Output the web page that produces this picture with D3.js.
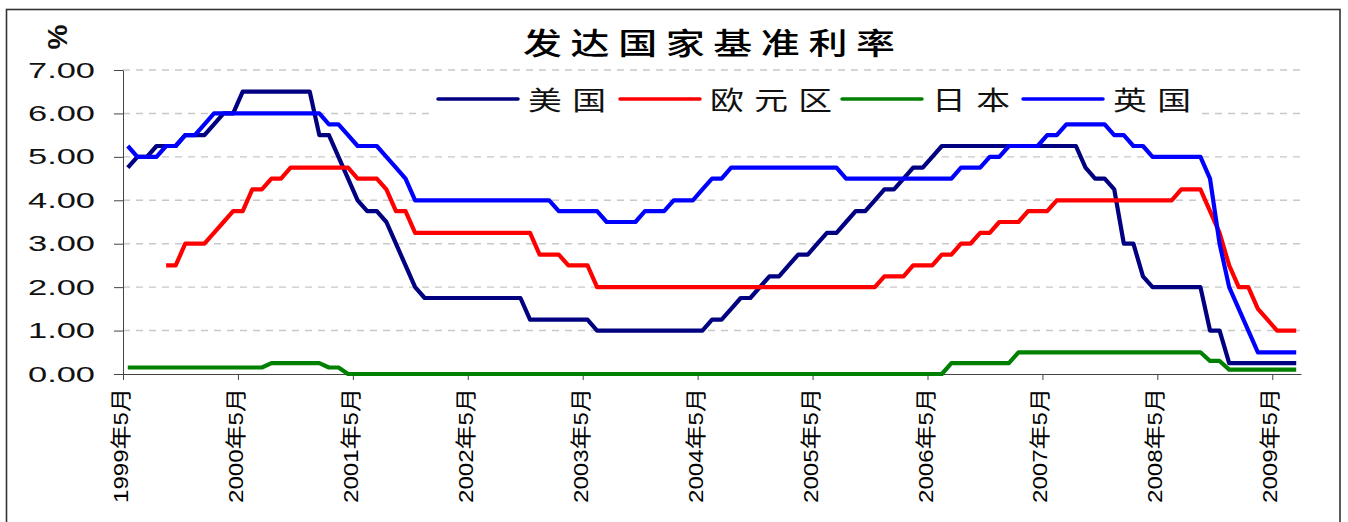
<!DOCTYPE html>
<html>
<head>
<meta charset="utf-8">
<script src="https://cdn.jsdelivr.net/npm/d3@7"></script>
<style>
body { margin: 0; background: #fff; }
svg { display: block; }
</style>
</head>
<body>
<div id="chart"></div>
<script>
var width = 1348;
var height = 522;

// tick labels every 12 months, first category = 1999年5月
var tickLabels = ["1999年5月", "2000年5月", "2001年5月", "2002年5月", "2003年5月", "2004年5月",
    "2005年5月", "2006年5月", "2007年5月", "2008年5月", "2009年5月"];
var tickIndex = [0, 12, 24, 36, 48, 60, 72, 84, 96, 108, 120];
var yTicks = [0, 1, 2, 3, 4, 5, 6, 7];

// monthly values, 1999年5月 .. 2009年7月 (one row = 12 months from May)
var usRate = [
    4.75, 5.00, 5.00, 5.25, 5.25, 5.25, 5.50, 5.50, 5.50, 5.75, 6.00, 6.00,
    6.50, 6.50, 6.50, 6.50, 6.50, 6.50, 6.50, 6.50, 5.50, 5.50, 5.00, 4.50,
    4.00, 3.75, 3.75, 3.50, 3.00, 2.50, 2.00, 1.75, 1.75, 1.75, 1.75, 1.75,
    1.75, 1.75, 1.75, 1.75, 1.75, 1.75, 1.25, 1.25, 1.25, 1.25, 1.25, 1.25,
    1.25, 1.00, 1.00, 1.00, 1.00, 1.00, 1.00, 1.00, 1.00, 1.00, 1.00, 1.00,
    1.00, 1.25, 1.25, 1.50, 1.75, 1.75, 2.00, 2.25, 2.25, 2.50, 2.75, 2.75,
    3.00, 3.25, 3.25, 3.50, 3.75, 3.75, 4.00, 4.25, 4.25, 4.50, 4.75, 4.75,
    5.00, 5.25, 5.25, 5.25, 5.25, 5.25, 5.25, 5.25, 5.25, 5.25, 5.25, 5.25,
    5.25, 5.25, 5.25, 5.25, 4.75, 4.50, 4.50, 4.25, 3.00, 3.00, 2.25, 2.00,
    2.00, 2.00, 2.00, 2.00, 2.00, 1.00, 1.00, 0.25, 0.25, 0.25, 0.25, 0.25,
    0.25, 0.25, 0.25
];
var euroRate = [
    null, null, null, null, 2.50, 2.50, 3.00, 3.00, 3.00, 3.25, 3.50, 3.75,
    3.75, 4.25, 4.25, 4.50, 4.50, 4.75, 4.75, 4.75, 4.75, 4.75, 4.75, 4.75,
    4.50, 4.50, 4.50, 4.25, 3.75, 3.75, 3.25, 3.25, 3.25, 3.25, 3.25, 3.25,
    3.25, 3.25, 3.25, 3.25, 3.25, 3.25, 3.25, 2.75, 2.75, 2.75, 2.50, 2.50,
    2.50, 2.00, 2.00, 2.00, 2.00, 2.00, 2.00, 2.00, 2.00, 2.00, 2.00, 2.00,
    2.00, 2.00, 2.00, 2.00, 2.00, 2.00, 2.00, 2.00, 2.00, 2.00, 2.00, 2.00,
    2.00, 2.00, 2.00, 2.00, 2.00, 2.00, 2.00, 2.25, 2.25, 2.25, 2.50, 2.50,
    2.50, 2.75, 2.75, 3.00, 3.00, 3.25, 3.25, 3.50, 3.50, 3.50, 3.75, 3.75,
    3.75, 4.00, 4.00, 4.00, 4.00, 4.00, 4.00, 4.00, 4.00, 4.00, 4.00, 4.00,
    4.00, 4.00, 4.25, 4.25, 4.25, 3.75, 3.25, 2.50, 2.00, 2.00, 1.50, 1.25,
    1.00, 1.00, 1.00
];
var japanRate = [
    0.15, 0.15, 0.15, 0.15, 0.15, 0.15, 0.15, 0.15, 0.15, 0.15, 0.15, 0.15,
    0.15, 0.15, 0.15, 0.25, 0.25, 0.25, 0.25, 0.25, 0.25, 0.15, 0.15, 0.00,
    0.00, 0.00, 0.00, 0.00, 0.00, 0.00, 0.00, 0.00, 0.00, 0.00, 0.00, 0.00,
    0.00, 0.00, 0.00, 0.00, 0.00, 0.00, 0.00, 0.00, 0.00, 0.00, 0.00, 0.00,
    0.00, 0.00, 0.00, 0.00, 0.00, 0.00, 0.00, 0.00, 0.00, 0.00, 0.00, 0.00,
    0.00, 0.00, 0.00, 0.00, 0.00, 0.00, 0.00, 0.00, 0.00, 0.00, 0.00, 0.00,
    0.00, 0.00, 0.00, 0.00, 0.00, 0.00, 0.00, 0.00, 0.00, 0.00, 0.00, 0.00,
    0.00, 0.00, 0.25, 0.25, 0.25, 0.25, 0.25, 0.25, 0.25, 0.50, 0.50, 0.50,
    0.50, 0.50, 0.50, 0.50, 0.50, 0.50, 0.50, 0.50, 0.50, 0.50, 0.50, 0.50,
    0.50, 0.50, 0.50, 0.50, 0.50, 0.30, 0.30, 0.10, 0.10, 0.10, 0.10, 0.10,
    0.10, 0.10, 0.10
];
var ukRate = [
    5.25, 5.00, 5.00, 5.00, 5.25, 5.25, 5.50, 5.50, 5.75, 6.00, 6.00, 6.00,
    6.00, 6.00, 6.00, 6.00, 6.00, 6.00, 6.00, 6.00, 6.00, 5.75, 5.75, 5.50,
    5.25, 5.25, 5.25, 5.00, 4.75, 4.50, 4.00, 4.00, 4.00, 4.00, 4.00, 4.00,
    4.00, 4.00, 4.00, 4.00, 4.00, 4.00, 4.00, 4.00, 4.00, 3.75, 3.75, 3.75,
    3.75, 3.75, 3.50, 3.50, 3.50, 3.50, 3.75, 3.75, 3.75, 4.00, 4.00, 4.00,
    4.25, 4.50, 4.50, 4.75, 4.75, 4.75, 4.75, 4.75, 4.75, 4.75, 4.75, 4.75,
    4.75, 4.75, 4.75, 4.50, 4.50, 4.50, 4.50, 4.50, 4.50, 4.50, 4.50, 4.50,
    4.50, 4.50, 4.50, 4.75, 4.75, 4.75, 5.00, 5.00, 5.25, 5.25, 5.25, 5.25,
    5.50, 5.50, 5.75, 5.75, 5.75, 5.75, 5.75, 5.50, 5.50, 5.25, 5.25, 5.00,
    5.00, 5.00, 5.00, 5.00, 5.00, 4.50, 3.00, 2.00, 1.50, 1.00, 0.50, 0.50,
    0.50, 0.50, 0.50
];

var seriesNames = ["美国", "欧元区", "日本", "英国"];
var seriesValues = [usRate, euroRate, japanRate, ukRate];
var seriesColors = ["#000080", "#ff0000", "#008000", "#0000ff"];

var svg = d3.select("#chart").append("svg")
        .attr("width", width)
        .attr("height", height);

// outer frame
svg.append("rect")
        .attr("x", 6.5).attr("y", 9.5)
        .attr("width", 1333.5).attr("height", 540)
        .attr("fill", "#fff")
        .attr("stroke", "#333")
        .attr("stroke-width", 1.6);

var x = d3.scaleLinear().domain([0, usRate.length]).range([123, 1301]);
var y = d3.scaleLinear().domain([0, 7]).range([374, 70]);

// gridlines
svg.append("g").selectAll("line")
        .data(yTicks.filter(function (d) { return d > 0; }))
        .enter().append("line")
        .attr("x1", 123).attr("x2", 1301)
        .attr("y1", function (d) { return y(d); })
        .attr("y2", function (d) { return y(d); })
        .attr("stroke", "#c8c8c8")
        .attr("stroke-width", 1.4)
        .attr("stroke-dasharray", "7,6");

// legend background hides the grid behind it
svg.append("rect")
        .attr("x", 432).attr("y", 80)
        .attr("width", 766).attr("height", 40)
        .attr("fill", "#fff");

// y axis
var yAxis = svg.append("g")
        .attr("transform", "translate(123,0)")
        .call(d3.axisLeft(y).tickValues(yTicks).tickFormat(d3.format(".2f"))
                .tickSize(9).tickSizeOuter(0).tickPadding(19));
yAxis.select(".domain").attr("stroke", "#444");
yAxis.selectAll(".tick line").attr("stroke", "#444");
yAxis.selectAll("text")
        .attr("font-family", "'Liberation Sans', Arial, sans-serif")
        .attr("font-size", 22)
        .attr("fill", "#111")
        .attr("textLength", 67)
        .attr("lengthAdjust", "spacingAndGlyphs");

// x axis
var xAxis = svg.append("g")
        .attr("transform", "translate(0,374)")
        .call(d3.axisBottom(x).tickValues(tickIndex)
                .tickFormat(function (d, k) { return tickLabels[k]; })
                .tickSize(6).tickSizeOuter(0));
xAxis.select(".domain").attr("stroke", "#444");
xAxis.selectAll(".tick line").attr("stroke", "#444");
xAxis.selectAll("text")
        .attr("transform", "rotate(-90)")
        .attr("text-anchor", "end")
        .attr("x", -14)
        .attr("y", -3)
        .attr("dy", "0.36em")
        .attr("font-family", "'Liberation Sans', 'Noto Sans CJK SC', sans-serif")
        .attr("font-size", 21)
        .attr("fill", "#000")
        .attr("textLength", 115)
        .attr("lengthAdjust", "spacingAndGlyphs");

// series lines
var line = d3.line()
        .defined(function (d) { return d !== null; })
        .x(function (d, i) { return x(i + 0.5); })
        .y(function (d) { return y(d); });

svg.append("g").selectAll("path")
        .data(seriesValues)
        .enter().append("path")
        .attr("d", line)
        .attr("fill", "none")
        .attr("stroke", function (d, i) { return seriesColors[i]; })
        .attr("stroke-width", 4.2)
        .attr("stroke-linejoin", "round");

// legend
var legendX = [438, 620, 842, 1023];
var legend = svg.append("g").selectAll("g")
        .data(seriesNames)
        .enter().append("g")
        .attr("transform", function (d, i) { return "translate(" + legendX[i] + ",99)"; });
legend.append("line")
        .attr("x1", 0).attr("x2", 80)
        .attr("stroke", function (d, i) { return seriesColors[i]; })
        .attr("stroke-width", 3.5)
        .attr("stroke-linecap", "round");
legend.append("text")
        .attr("transform", "translate(90,0) scale(1.3,1)")
        .attr("dominant-baseline", "central")
        .attr("font-family", "'Noto Sans CJK SC', sans-serif")
        .attr("font-size", 26)
        .attr("letter-spacing", 8)
        .attr("fill", "#111")
        .text(function (d) { return d; });

// title
svg.append("text")
        .attr("transform", "translate(523,41) scale(1.3,1)")
        .attr("dominant-baseline", "central")
        .attr("font-family", "'Noto Sans CJK SC', sans-serif")
        .attr("font-size", 30)
        .attr("font-weight", 500)
        .attr("letter-spacing", 6.6)
        .attr("fill", "#000")
        .text("发达国家基准利率");

// unit
svg.append("text")
        .attr("transform", "translate(57,37) rotate(-90)")
        .attr("text-anchor", "middle")
        .attr("dominant-baseline", "central")
        .attr("font-family", "'Liberation Sans', Arial, sans-serif")
        .attr("font-size", 28)
        .attr("font-weight", "bold")
        .attr("fill", "#111")
        .text("%");
</script>
</body>
</html>
